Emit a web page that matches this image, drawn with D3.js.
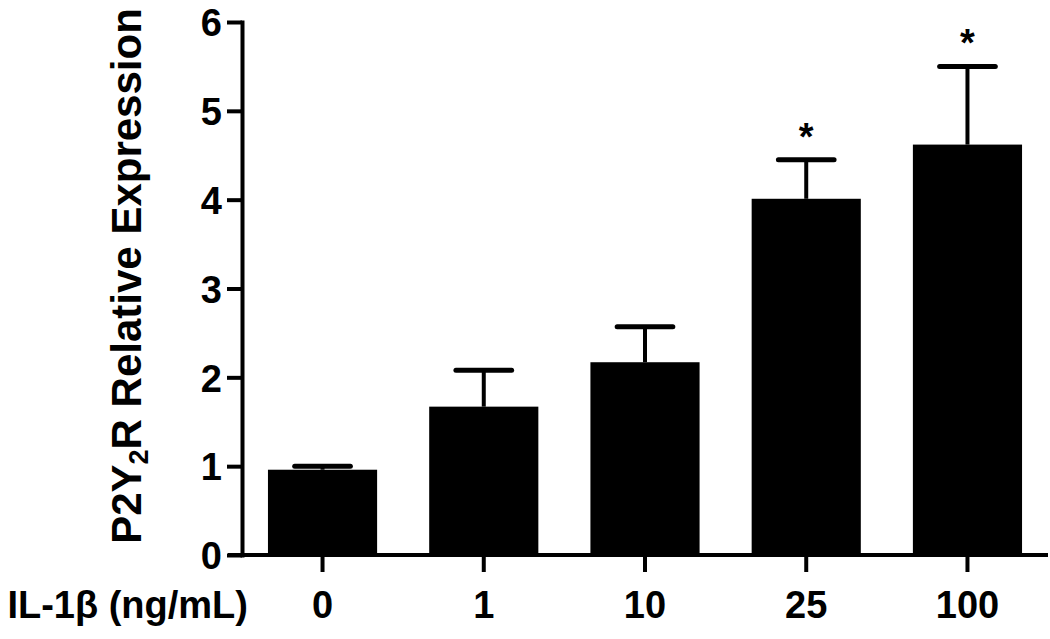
<!DOCTYPE html>
<html>
<head>
<meta charset="utf-8">
<script src="https://cdn.jsdelivr.net/npm/d3@7"></script>
<style>
  html, body { margin: 0; padding: 0; background: #fff; }
  svg { display: block; }
  text { font-family: "Liberation Sans", Arial, sans-serif; font-weight: bold; fill: #000; }
</style>
</head>
<body>
<svg id="chart" width="1050" height="639"></svg>
<script>
const categories = ["0", "1", "10", "25", "100"];
const means = [0.96, 1.67, 2.17, 4.01, 4.62];
const errors = [0.04, 0.41, 0.40, 0.44, 0.88];
const significant = [false, false, false, true, true];
const yTicks = [0, 1, 2, 3, 4, 5, 6];
const xTitle = "IL-1β (ng/mL)";

const svg = d3.select("#chart");
const x = d3.scaleBand().domain(categories).range([242, 1048]).paddingInner(0.323).paddingOuter(0.161);
const y = d3.scaleLinear().domain([0, 6]).range([555, 22]);

// bars
svg.selectAll("rect.bar").data(categories).enter().append("rect")
  .attr("class", "bar")
  .attr("x", d => x(d))
  .attr("width", x.bandwidth())
  .attr("y", (d, i) => y(means[i]))
  .attr("height", (d, i) => y(0) - y(means[i]))
  .attr("fill", "#000");

// error bars (upper only)
const capW = x.bandwidth() * 0.51;
const eg = svg.selectAll("g.err").data(categories).enter().append("g").attr("class", "err");
eg.append("line")
  .attr("x1", d => x(d) + x.bandwidth() / 2).attr("x2", d => x(d) + x.bandwidth() / 2)
  .attr("y1", (d, i) => y(means[i])).attr("y2", (d, i) => y(means[i] + errors[i]))
  .attr("stroke", "#000").attr("stroke-width", 4);
eg.append("line")
  .attr("x1", d => x(d) + x.bandwidth() / 2 - capW / 2).attr("x2", d => x(d) + x.bandwidth() / 2 + capW / 2)
  .attr("y1", (d, i) => y(means[i] + errors[i])).attr("y2", (d, i) => y(means[i] + errors[i]))
  .attr("stroke", "#000").attr("stroke-width", 5).attr("stroke-linecap", "round");

// significance stars
svg.selectAll("text.star").data(categories.filter((d, i) => significant[i])).enter().append("text")
  .attr("class", "star")
  .attr("x", d => x(d) + x.bandwidth() / 2)
  .attr("y", d => { const i = categories.indexOf(d); return y(means[i] + errors[i]) - 10; })
  .attr("text-anchor", "middle")
  .style("font-size", "38px")
  .text("*");

// y axis
const yAxis = svg.append("g").attr("transform", "translate(242,0)")
  .call(d3.axisLeft(y).tickValues(yTicks).tickFormat(d3.format("d")).tickSize(15).tickSizeOuter(0).tickPadding(5));
yAxis.select(".domain").attr("stroke", "#000").attr("stroke-width", 4).attr("stroke-linecap", "square");
yAxis.selectAll(".tick line").attr("stroke", "#000").attr("stroke-width", 4);
yAxis.selectAll(".tick text").style("font-size", "38px").style("font-family", "Liberation Sans, Arial, sans-serif").style("font-weight", "bold").attr("dy", "0.36em");

// x axis
const xAxis = svg.append("g").attr("transform", "translate(0,555)")
  .call(d3.axisBottom(x).tickSize(17).tickSizeOuter(0).tickPadding(19));
xAxis.select(".domain").attr("stroke", "#000").attr("stroke-width", 4).attr("d", "M228,0H1048");
xAxis.selectAll(".tick line").attr("stroke", "#000").attr("stroke-width", 4);
xAxis.selectAll(".tick text").style("font-size", "38px").style("font-family", "Liberation Sans, Arial, sans-serif").style("font-weight", "bold");

// x title (left of tick labels)
svg.append("text")
  .attr("x", 248).attr("y", 555 + 17 + 19).attr("dy", "0.71em")
  .attr("text-anchor", "end")
  .style("font-size", "38px")
  .text(xTitle);

// y title with subscript
const yt = svg.append("text")
  .attr("transform", "translate(141,276) rotate(-90)")
  .attr("text-anchor", "middle")
  .style("font-size", "42px");
yt.append("tspan").text("P2Y");
yt.append("tspan").text("2").attr("dy", "0.25em").style("font-size", "27px");
yt.append("tspan").text("R Relative Expression").attr("dy", "-0.16em");
</script>
</body>
</html>
